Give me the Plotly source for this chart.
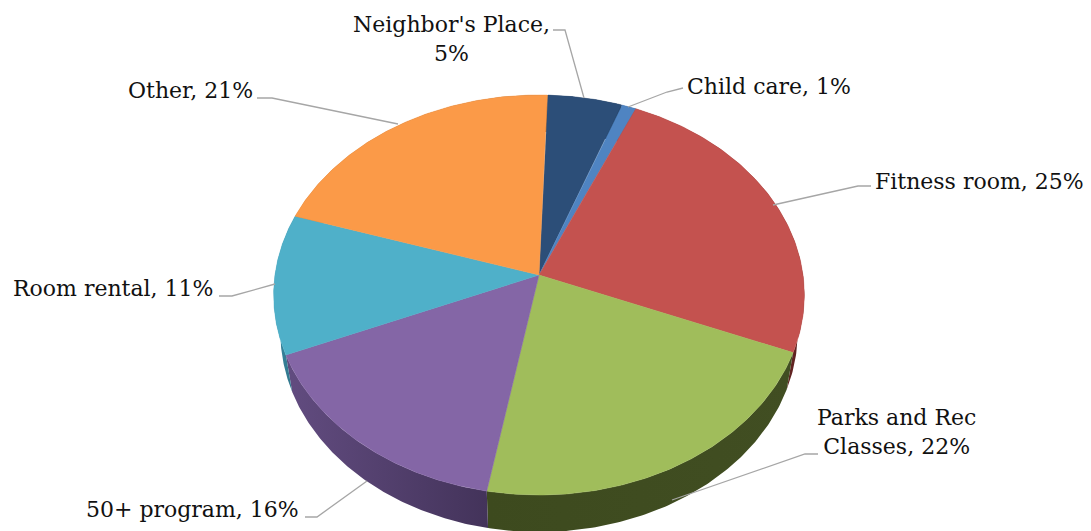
import numpy as np
import plotly.graph_objects as go

categories = ["Neighbor's Place", "Child care", "Fitness room", "Parks and Rec Classes",
              "50+ program", "Room rental", "Other"]
shares = [5.0, 1.0, 24.6, 21.7, 15.8, 11.3, 20.6]
printed_pct = [5, 1, 25, 22, 16, 11, 21]
top_colors = ["#2c4e78", "#4f84c2", "#c4524f", "#a0bd5b", "#8466a6", "#4fb0c9", "#fb9a48"]
wall_left = ["#1c3350", "#34588a", "#8a3533", "#3d4a1e", "#624c80", "#3a8aa3", "#b06a30"]
wall_right = ["#16293f", "#2b4870", "#5e2220", "#414e22", "#43335a", "#2c6c80", "#8f5526"]

START_DEG = 2.0
CX, CY = 539.0, 275.0
SCALE_X, SCALE_Y, TILT = 264.0, 198.0, 0.1
DEPTH = 37.0
BOTTOM_NARROW = 0.975
FONT = "DejaVu Serif"
FSIZE = 22


def project(deg, narrow=1.0, drop=0.0):
    t = np.radians(deg)
    u, v = np.sin(t), np.cos(t)
    w = 1 + TILT * v
    return CX + narrow * SCALE_X * u / w, CY + drop - SCALE_Y * v / w


fig = go.Figure()
edges = START_DEG + np.concatenate([[0], np.cumsum(shares)]) * 360 / sum(shares)

for i, cat in enumerate(categories):
    a = np.linspace(edges[i], edges[i + 1], 120)
    x, y = project(a)
    xb, yb = project(a, BOTTOM_NARROW, DEPTH)
    fig.add_trace(go.Scatter(
        x=np.concatenate([x, xb[::-1]]), y=np.concatenate([y, yb[::-1]]),
        mode="lines", fill="toself", line=dict(width=0), name=cat, hoverinfo="skip",
        fillgradient=dict(type="horizontal", colorscale=[[0, wall_left[i]], [1, wall_right[i]]]),
    ))

for i, cat in enumerate(categories):
    a = np.linspace(edges[i], edges[i + 1], 120)
    x, y = project(a)
    fig.add_trace(go.Scatter(
        x=np.concatenate([[CX], x, [CX]]), y=np.concatenate([[CY], y, [CY]]),
        mode="lines", fill="toself", fillcolor=top_colors[i],
        line=dict(width=0.5, color=top_colors[i]), name=cat,
        hoverinfo="text", text=f"{cat}, {printed_pct[i]}%",
    ))

labels = [
    ("Neighbor's Place,<br>5%", 451, 39, "center"),
    ("Child care, 1%", 685, 86, "left"),
    ("Fitness room, 25%", 873, 181, "left"),
    ("Parks and Rec<br>Classes, 22%", 896, 432, "center"),
    ("50+ program, 16%", 301, 509, "right"),
    ("Room rental, 11%", 216, 288, "right"),
    ("Other, 21%", 255, 90, "right"),
]
for text, x, y, anchor in labels:
    fig.add_annotation(x=x, y=y, text=text, showarrow=False, xanchor=anchor, yanchor="middle",
                       align=anchor, font=dict(family=FONT, size=FSIZE, color="#111111"))

leaders = [
    [(553, 30), (565, 30), (584, 98)],
    [(683, 88), (667, 92), (628, 107)],
    [(871, 186), (858, 186), (773, 205)],
    [(818, 454), (805, 454), (672, 500)],
    [(305, 517), (317, 517), (367, 481)],
    [(219, 296), (232, 296), (275, 284)],
    [(257, 98), (272, 98), (398, 124)],
]
for pts in leaders:
    path = "M " + " L ".join(f"{px} {py}" for px, py in pts)
    fig.add_shape(type="path", path=path, line=dict(color="#a6a6a6", width=1.3), layer="above")

fig.update_layout(
    width=1091, height=531, margin=dict(l=0, r=0, t=0, b=0),
    paper_bgcolor="white", plot_bgcolor="white", showlegend=False,
    xaxis=dict(range=[0, 1091], visible=False, fixedrange=True),
    yaxis=dict(range=[531, 0], visible=False, fixedrange=True),
)
fig.write_html("out.html", config={"displayModeBar": False},
               post_script="document.body.style.margin='0';document.body.style.overflow='hidden';")
